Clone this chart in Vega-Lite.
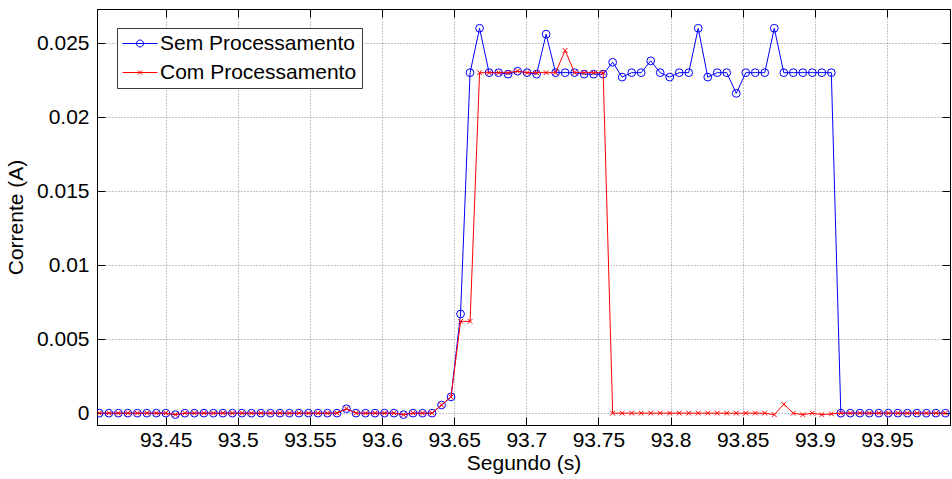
{
  "$schema": "https://vega.github.io/schema/vega-lite/v6.json",
  "autosize": {"type": "none"},
  "padding": {"left": 97, "top": 9, "right": 2, "bottom": 54},
  "width": 853,
  "height": 416,
  "background": "white",
  "config": {
    "font": "Liberation Sans",
    "view": {"stroke": "#000000", "strokeWidth": 1},
    "axis": {
      "labelFont": "Liberation Sans",
      "titleFont": "Liberation Sans",
      "labelFontSize": 21,
      "titleFontSize": 21,
      "titleFontWeight": "normal",
      "labelColor": "#000000",
      "titleColor": "#000000",
      "domainColor": "#000000",
      "tickColor": "#000000",
      "gridColor": "#8a8a8a",
      "gridDash": [1, 2],
      "gridOpacity": 1,
      "gridWidth": 1
    }
  },
  "data": {
    "values": [
      {"t": 93.40400, "v": 0, "s": "Sem Processamento"},
      {"t": 93.41059, "v": 0, "s": "Sem Processamento"},
      {"t": 93.41718, "v": 0, "s": "Sem Processamento"},
      {"t": 93.42377, "v": 0, "s": "Sem Processamento"},
      {"t": 93.43036, "v": 0, "s": "Sem Processamento"},
      {"t": 93.43695, "v": 0, "s": "Sem Processamento"},
      {"t": 93.44354, "v": 0, "s": "Sem Processamento"},
      {"t": 93.45013, "v": 0, "s": "Sem Processamento"},
      {"t": 93.45672, "v": -0.0001, "s": "Sem Processamento"},
      {"t": 93.46331, "v": 0, "s": "Sem Processamento"},
      {"t": 93.46990, "v": 0, "s": "Sem Processamento"},
      {"t": 93.47649, "v": 0, "s": "Sem Processamento"},
      {"t": 93.48308, "v": 0, "s": "Sem Processamento"},
      {"t": 93.48967, "v": 0, "s": "Sem Processamento"},
      {"t": 93.49626, "v": 0, "s": "Sem Processamento"},
      {"t": 93.50285, "v": 0, "s": "Sem Processamento"},
      {"t": 93.50944, "v": 0, "s": "Sem Processamento"},
      {"t": 93.51603, "v": 0, "s": "Sem Processamento"},
      {"t": 93.52262, "v": 0, "s": "Sem Processamento"},
      {"t": 93.52921, "v": 0, "s": "Sem Processamento"},
      {"t": 93.53580, "v": 0, "s": "Sem Processamento"},
      {"t": 93.54239, "v": 0, "s": "Sem Processamento"},
      {"t": 93.54898, "v": 0, "s": "Sem Processamento"},
      {"t": 93.55557, "v": 0, "s": "Sem Processamento"},
      {"t": 93.56216, "v": 0, "s": "Sem Processamento"},
      {"t": 93.56875, "v": 0, "s": "Sem Processamento"},
      {"t": 93.57534, "v": 0.0003, "s": "Sem Processamento"},
      {"t": 93.58193, "v": 0, "s": "Sem Processamento"},
      {"t": 93.58852, "v": 0, "s": "Sem Processamento"},
      {"t": 93.59511, "v": 0, "s": "Sem Processamento"},
      {"t": 93.60170, "v": 0, "s": "Sem Processamento"},
      {"t": 93.60829, "v": 0, "s": "Sem Processamento"},
      {"t": 93.61488, "v": -0.0001, "s": "Sem Processamento"},
      {"t": 93.62147, "v": 0, "s": "Sem Processamento"},
      {"t": 93.62806, "v": 0, "s": "Sem Processamento"},
      {"t": 93.63465, "v": 0, "s": "Sem Processamento"},
      {"t": 93.64124, "v": 0.00055, "s": "Sem Processamento"},
      {"t": 93.64783, "v": 0.0011, "s": "Sem Processamento"},
      {"t": 93.65442, "v": 0.0067, "s": "Sem Processamento"},
      {"t": 93.66101, "v": 0.0230, "s": "Sem Processamento"},
      {"t": 93.66760, "v": 0.0260, "s": "Sem Processamento"},
      {"t": 93.67419, "v": 0.0230, "s": "Sem Processamento"},
      {"t": 93.68078, "v": 0.0230, "s": "Sem Processamento"},
      {"t": 93.68737, "v": 0.0229, "s": "Sem Processamento"},
      {"t": 93.69396, "v": 0.0231, "s": "Sem Processamento"},
      {"t": 93.70055, "v": 0.0230, "s": "Sem Processamento"},
      {"t": 93.70714, "v": 0.0229, "s": "Sem Processamento"},
      {"t": 93.71373, "v": 0.0256, "s": "Sem Processamento"},
      {"t": 93.72032, "v": 0.0230, "s": "Sem Processamento"},
      {"t": 93.72691, "v": 0.0230, "s": "Sem Processamento"},
      {"t": 93.73350, "v": 0.0230, "s": "Sem Processamento"},
      {"t": 93.74009, "v": 0.0229, "s": "Sem Processamento"},
      {"t": 93.74668, "v": 0.0229, "s": "Sem Processamento"},
      {"t": 93.75327, "v": 0.0229, "s": "Sem Processamento"},
      {"t": 93.75986, "v": 0.0237, "s": "Sem Processamento"},
      {"t": 93.76645, "v": 0.0227, "s": "Sem Processamento"},
      {"t": 93.77304, "v": 0.0230, "s": "Sem Processamento"},
      {"t": 93.77963, "v": 0.0230, "s": "Sem Processamento"},
      {"t": 93.78622, "v": 0.0238, "s": "Sem Processamento"},
      {"t": 93.79281, "v": 0.0230, "s": "Sem Processamento"},
      {"t": 93.79940, "v": 0.0227, "s": "Sem Processamento"},
      {"t": 93.80599, "v": 0.0230, "s": "Sem Processamento"},
      {"t": 93.81258, "v": 0.0230, "s": "Sem Processamento"},
      {"t": 93.81917, "v": 0.0260, "s": "Sem Processamento"},
      {"t": 93.82576, "v": 0.0227, "s": "Sem Processamento"},
      {"t": 93.83235, "v": 0.0230, "s": "Sem Processamento"},
      {"t": 93.83894, "v": 0.0230, "s": "Sem Processamento"},
      {"t": 93.84553, "v": 0.0216, "s": "Sem Processamento"},
      {"t": 93.85212, "v": 0.0230, "s": "Sem Processamento"},
      {"t": 93.85871, "v": 0.0230, "s": "Sem Processamento"},
      {"t": 93.86530, "v": 0.0230, "s": "Sem Processamento"},
      {"t": 93.87189, "v": 0.0260, "s": "Sem Processamento"},
      {"t": 93.87848, "v": 0.0230, "s": "Sem Processamento"},
      {"t": 93.88507, "v": 0.0230, "s": "Sem Processamento"},
      {"t": 93.89166, "v": 0.0230, "s": "Sem Processamento"},
      {"t": 93.89825, "v": 0.0230, "s": "Sem Processamento"},
      {"t": 93.90484, "v": 0.0230, "s": "Sem Processamento"},
      {"t": 93.91143, "v": 0.0230, "s": "Sem Processamento"},
      {"t": 93.91802, "v": 0, "s": "Sem Processamento"},
      {"t": 93.92461, "v": 0, "s": "Sem Processamento"},
      {"t": 93.93120, "v": 0, "s": "Sem Processamento"},
      {"t": 93.93779, "v": 0, "s": "Sem Processamento"},
      {"t": 93.94438, "v": 0, "s": "Sem Processamento"},
      {"t": 93.95097, "v": 0, "s": "Sem Processamento"},
      {"t": 93.95756, "v": 0, "s": "Sem Processamento"},
      {"t": 93.96415, "v": 0, "s": "Sem Processamento"},
      {"t": 93.97074, "v": 0, "s": "Sem Processamento"},
      {"t": 93.97733, "v": 0, "s": "Sem Processamento"},
      {"t": 93.98392, "v": 0, "s": "Sem Processamento"},
      {"t": 93.99051, "v": 0, "s": "Sem Processamento"},

      {"t": 93.40400, "v": 0, "s": "Com Processamento"},
      {"t": 93.41059, "v": 0, "s": "Com Processamento"},
      {"t": 93.41718, "v": 0, "s": "Com Processamento"},
      {"t": 93.42377, "v": 0, "s": "Com Processamento"},
      {"t": 93.43036, "v": 0, "s": "Com Processamento"},
      {"t": 93.43695, "v": 0, "s": "Com Processamento"},
      {"t": 93.44354, "v": 0, "s": "Com Processamento"},
      {"t": 93.45013, "v": 0, "s": "Com Processamento"},
      {"t": 93.45672, "v": -0.0001, "s": "Com Processamento"},
      {"t": 93.46331, "v": 0, "s": "Com Processamento"},
      {"t": 93.46990, "v": 0, "s": "Com Processamento"},
      {"t": 93.47649, "v": 0, "s": "Com Processamento"},
      {"t": 93.48308, "v": 0, "s": "Com Processamento"},
      {"t": 93.48967, "v": 0, "s": "Com Processamento"},
      {"t": 93.49626, "v": 0, "s": "Com Processamento"},
      {"t": 93.50285, "v": 0, "s": "Com Processamento"},
      {"t": 93.50944, "v": 0, "s": "Com Processamento"},
      {"t": 93.51603, "v": 0, "s": "Com Processamento"},
      {"t": 93.52262, "v": 0, "s": "Com Processamento"},
      {"t": 93.52921, "v": 0, "s": "Com Processamento"},
      {"t": 93.53580, "v": 0, "s": "Com Processamento"},
      {"t": 93.54239, "v": 0, "s": "Com Processamento"},
      {"t": 93.54898, "v": 0, "s": "Com Processamento"},
      {"t": 93.55557, "v": 0, "s": "Com Processamento"},
      {"t": 93.56216, "v": 0, "s": "Com Processamento"},
      {"t": 93.56875, "v": 0, "s": "Com Processamento"},
      {"t": 93.57534, "v": 0.0003, "s": "Com Processamento"},
      {"t": 93.58193, "v": 0, "s": "Com Processamento"},
      {"t": 93.58852, "v": 0, "s": "Com Processamento"},
      {"t": 93.59511, "v": 0, "s": "Com Processamento"},
      {"t": 93.60170, "v": 0, "s": "Com Processamento"},
      {"t": 93.60829, "v": 0, "s": "Com Processamento"},
      {"t": 93.61488, "v": -0.0001, "s": "Com Processamento"},
      {"t": 93.62147, "v": 0, "s": "Com Processamento"},
      {"t": 93.62806, "v": 0, "s": "Com Processamento"},
      {"t": 93.63465, "v": 0, "s": "Com Processamento"},
      {"t": 93.64124, "v": 0.00055, "s": "Com Processamento"},
      {"t": 93.64783, "v": 0.0011, "s": "Com Processamento"},
      {"t": 93.65442, "v": 0.0062, "s": "Com Processamento"},
      {"t": 93.66101, "v": 0.0062, "s": "Com Processamento"},
      {"t": 93.66760, "v": 0.0230, "s": "Com Processamento"},
      {"t": 93.67419, "v": 0.0230, "s": "Com Processamento"},
      {"t": 93.68078, "v": 0.0230, "s": "Com Processamento"},
      {"t": 93.68737, "v": 0.0230, "s": "Com Processamento"},
      {"t": 93.69396, "v": 0.0231, "s": "Com Processamento"},
      {"t": 93.70055, "v": 0.0230, "s": "Com Processamento"},
      {"t": 93.70714, "v": 0.0230, "s": "Com Processamento"},
      {"t": 93.71373, "v": 0.0230, "s": "Com Processamento"},
      {"t": 93.72032, "v": 0.0230, "s": "Com Processamento"},
      {"t": 93.72691, "v": 0.0245, "s": "Com Processamento"},
      {"t": 93.73350, "v": 0.0230, "s": "Com Processamento"},
      {"t": 93.74009, "v": 0.0230, "s": "Com Processamento"},
      {"t": 93.74668, "v": 0.0230, "s": "Com Processamento"},
      {"t": 93.75327, "v": 0.0230, "s": "Com Processamento"},
      {"t": 93.75986, "v": 0, "s": "Com Processamento"},
      {"t": 93.76645, "v": 0, "s": "Com Processamento"},
      {"t": 93.77304, "v": 0, "s": "Com Processamento"},
      {"t": 93.77963, "v": 0, "s": "Com Processamento"},
      {"t": 93.78622, "v": 0, "s": "Com Processamento"},
      {"t": 93.79281, "v": 0, "s": "Com Processamento"},
      {"t": 93.79940, "v": 0, "s": "Com Processamento"},
      {"t": 93.80599, "v": 0, "s": "Com Processamento"},
      {"t": 93.81258, "v": 0, "s": "Com Processamento"},
      {"t": 93.81917, "v": 0, "s": "Com Processamento"},
      {"t": 93.82576, "v": 0, "s": "Com Processamento"},
      {"t": 93.83235, "v": 0, "s": "Com Processamento"},
      {"t": 93.83894, "v": 0, "s": "Com Processamento"},
      {"t": 93.84553, "v": 0, "s": "Com Processamento"},
      {"t": 93.85212, "v": 0, "s": "Com Processamento"},
      {"t": 93.85871, "v": 0, "s": "Com Processamento"},
      {"t": 93.86530, "v": 0, "s": "Com Processamento"},
      {"t": 93.87189, "v": -0.0001, "s": "Com Processamento"},
      {"t": 93.87848, "v": 0.0006, "s": "Com Processamento"},
      {"t": 93.88507, "v": 0, "s": "Com Processamento"},
      {"t": 93.89166, "v": -0.0001, "s": "Com Processamento"},
      {"t": 93.89825, "v": 0, "s": "Com Processamento"},
      {"t": 93.90484, "v": -0.0001, "s": "Com Processamento"},
      {"t": 93.91143, "v": -0.00005, "s": "Com Processamento"},
      {"t": 93.91802, "v": 0, "s": "Com Processamento"},
      {"t": 93.92461, "v": 0, "s": "Com Processamento"},
      {"t": 93.93120, "v": 0, "s": "Com Processamento"},
      {"t": 93.93779, "v": 0, "s": "Com Processamento"},
      {"t": 93.94438, "v": 0, "s": "Com Processamento"},
      {"t": 93.95097, "v": 0, "s": "Com Processamento"},
      {"t": 93.95756, "v": 0, "s": "Com Processamento"},
      {"t": 93.96415, "v": 0, "s": "Com Processamento"},
      {"t": 93.97074, "v": 0, "s": "Com Processamento"},
      {"t": 93.97733, "v": 0, "s": "Com Processamento"},
      {"t": 93.98392, "v": 0, "s": "Com Processamento"},
      {"t": 93.99051, "v": 0, "s": "Com Processamento"}
    ]
  },
  "resolve": {"axis": {"x": "independent", "y": "independent"}},
  "layer": [
    {
      "transform": [{"filter": "datum.s === 'Sem Processamento'"}],
      "mark": {"type": "line", "strokeWidth": 1, "clip": true},
      "encoding": {
        "x": {"field": "t", "type": "quantitative",
          "scale": {"domain": [93.4024, 93.9937], "nice": false, "zero": false},
          "axis": {"orient": "bottom", "values": [93.45, 93.5, 93.55, 93.6, 93.65, 93.7, 93.75, 93.8, 93.85, 93.9, 93.95],
            "format": ".2~f", "title": "Segundo (s)", "grid": true, "tickSize": -8, "labelPadding": 12, "titlePadding": 2}},
        "y": {"field": "v", "type": "quantitative",
          "scale": {"domain": [-0.0008, 0.0273], "nice": false, "zero": false},
          "axis": {"orient": "left", "values": [0, 0.005, 0.01, 0.015, 0.02, 0.025],
            "format": ".3~f", "title": "Corrente (A)", "grid": true, "tickSize": -8, "labelPadding": 16, "titlePadding": 10}},
        "color": {"field": "s", "type": "nominal",
          "scale": {"domain": ["Sem Processamento", "Com Processamento"], "range": ["#0000ff", "#ff0000"]},
          "legend": {
            "title": null,
            "orient": "none",
            "legendX": 20,
            "legendY": 19,
            "direction": "vertical",
            "padding": 5,
            "strokeColor": "#3a3a3a",
            "fillColor": "#ffffff",
            "labelFont": "Liberation Sans",
            "labelFontSize": 21,
            "labelColor": "#000000",
            "labelLimit": 0,
            "labelOffset": 17,
            "symbolSize": 400,
            "rowPadding": 7,
            "symbolStrokeWidth": 1,
            "encode": {
              "symbols": {
                "update": {
                  "shape": {"signal": "datum.value === 'Sem Processamento' ? 'M-1,0L2.5,0M0.4,0A0.35,0.35 0 1,1 1.1,0A0.35,0.35 0 1,1 0.4,0' : 'M-1,0L2.5,0M0.53,-0.22L0.97,0.22M0.53,0.22L0.97,-0.22'"},
                  "fill": {"value": "transparent"},
                  "stroke": {"signal": "datum.value === 'Sem Processamento' ? '#0000ff' : '#ff0000'"},
                  "strokeWidth": {"value": 1},
                  "opacity": {"value": 1}
                }
              }
            }
          }
        }
      }
    },
    {
      "transform": [{"filter": "datum.s === 'Sem Processamento'"}],
      "mark": {"type": "point", "shape": "circle", "filled": false, "size": 60, "strokeWidth": 1, "opacity": 1, "clip": true},
      "encoding": {
        "x": {"field": "t", "type": "quantitative", "axis": null},
        "y": {"field": "v", "type": "quantitative", "axis": null},
        "color": {"field": "s", "type": "nominal"}
      }
    },
    {
      "transform": [{"filter": "datum.s === 'Com Processamento'"}],
      "mark": {"type": "line", "strokeWidth": 1, "clip": true},
      "encoding": {
        "x": {"field": "t", "type": "quantitative",
          "axis": {"orient": "top", "values": [93.45, 93.5, 93.55, 93.6, 93.65, 93.7, 93.75, 93.8, 93.85, 93.9, 93.95],
            "labels": false, "title": null, "grid": false, "tickSize": -8}},
        "y": {"field": "v", "type": "quantitative",
          "axis": {"orient": "right", "values": [0, 0.005, 0.01, 0.015, 0.02, 0.025],
            "labels": false, "title": null, "grid": false, "tickSize": -8}},
        "color": {"field": "s", "type": "nominal"}
      }
    },
    {
      "transform": [{"filter": "datum.s === 'Com Processamento'"}],
      "mark": {"type": "point", "shape": "M-1,-1L1,1M-1,1L1,-1", "filled": false, "size": 22, "strokeWidth": 1, "opacity": 1, "clip": true},
      "encoding": {
        "x": {"field": "t", "type": "quantitative", "axis": null},
        "y": {"field": "v", "type": "quantitative", "axis": null},
        "color": {"field": "s", "type": "nominal"}
      }
    }
  ]
}
